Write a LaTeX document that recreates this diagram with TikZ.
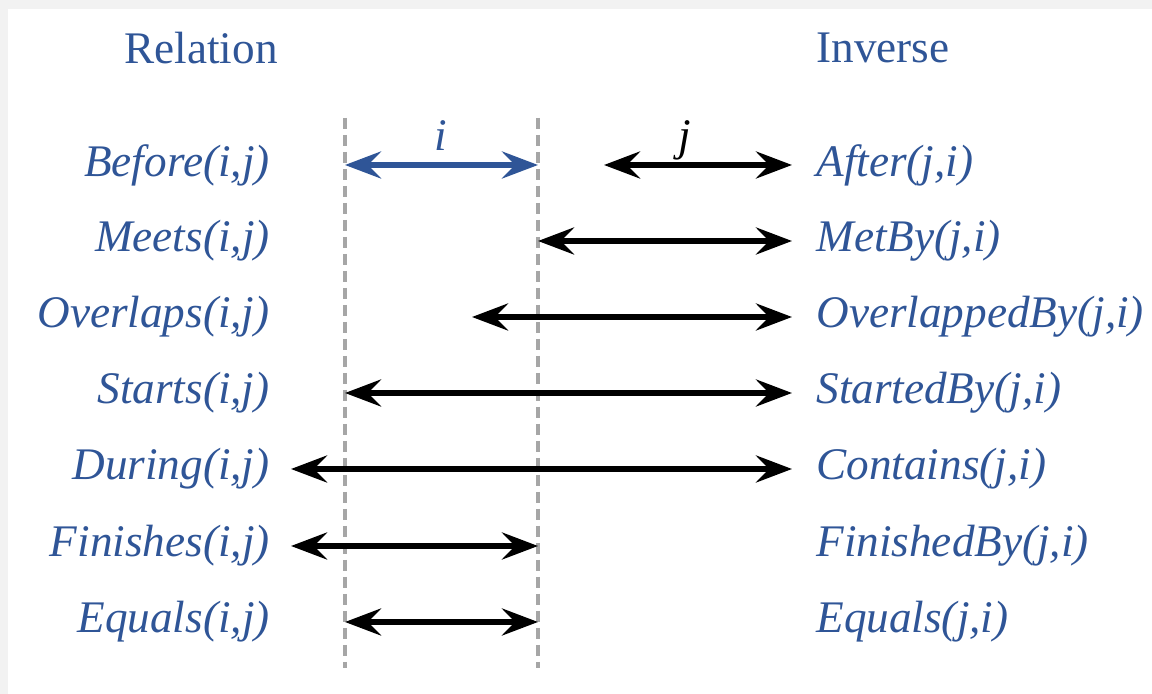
\documentclass[tikz,border=0pt]{standalone}
\usepackage{fontspec}
\setmainfont{Liberation Serif}
\usetikzlibrary{arrows.meta}
\definecolor{lblue}{HTML}{2F5597}
\definecolor{dgray}{HTML}{A6A6A6}
\definecolor{bgray}{HTML}{F2F2F2}
\begin{document}
\begin{tikzpicture}[x=0.5pt,y=-0.5pt,
  lbl/.style={text=lblue,font=\fontsize{22.6}{26}\selectfont\itshape,inner sep=0pt},
  lft/.style={lbl,anchor=east},
  rgt/.style={lbl,anchor=west},
  head/.style={text=lblue,font=\fontsize{22.6}{26}\selectfont,inner sep=0pt},
  iv/.style={draw=black,line width=3.3pt,
    {Stealth[length=18pt,width=13.5pt,inset=6.5pt]}-{Stealth[length=18pt,width=13.5pt,inset=6.5pt]}},
  ivb/.style={iv,draw=lblue},
  guide/.style={draw=dgray,line width=2pt,dash pattern=on 5.5pt off 3pt}]
\fill[bgray] (0,0) rectangle (1152,694);
\fill[white] (8,9) rectangle (1152,694);
\useasboundingbox (0,0) rectangle (1152,694);

% headers
\node[head] (hrel) at (201,48) {Relation};
\node[head,anchor=west] (hinv) at (816,48) {Inverse};

% guides
\coordinate (g1t) at (345,118); \coordinate (g1b) at (345,668);
\coordinate (g2t) at (538,118); \coordinate (g2b) at (538,668);
\draw[guide] (g1t) -- (g1b);
\draw[guide] (g2t) -- (g2b);

% labels
\node[lft] (l1) at (270,165) {Before(i,j)};
\node[lft] (l2) at (270,241) {Meets(i,j)};
\node[lft] (l3) at (270,317) {Overlaps(i,j)};
\node[lft] (l4) at (270,393) {Starts(i,j)};
\node[lft] (l5) at (270,469) {During(i,j)};
\node[lft] (l6) at (270,546) {Finishes(i,j)};
\node[lft] (l7) at (270,622) {Equals(i,j)};

\node[rgt] (r1) at (816,165) {After(j,i)};
\node[rgt] (r2) at (816,241) {MetBy(j,i)};
\node[rgt] (r3) at (816,317) {OverlappedBy(j,i)};
\node[rgt] (r4) at (816,393) {StartedBy(j,i)};
\node[rgt] (r5) at (816,469) {Contains(j,i)};
\node[rgt] (r6) at (816,546) {FinishedBy(j,i)};
\node[rgt] (r7) at (816,622) {Equals(j,i)};

% interval labels
\node[lbl] (ilab) at (441,136) {i};
\node[lbl,text=black] (jlab) at (685,140) {j};

% arrows
\coordinate (a1s) at (345,165); \coordinate (a1e) at (538,165);
\coordinate (b1s) at (604,165); \coordinate (b1e) at (792,165);
\coordinate (a2s) at (538,241); \coordinate (a2e) at (792,241);
\coordinate (a3s) at (472,317); \coordinate (a3e) at (792,317);
\coordinate (a4s) at (345,393); \coordinate (a4e) at (792,393);
\coordinate (a5s) at (291,469); \coordinate (a5e) at (792,469);
\coordinate (a6s) at (291,546); \coordinate (a6e) at (538,546);
\coordinate (a7s) at (345,622); \coordinate (a7e) at (538,622);

\draw[ivb] (a1s) -- (a1e);
\draw[iv] (b1s) -- (b1e);
\draw[iv] (a2s) -- (a2e);
\draw[iv] (a3s) -- (a3e);
\draw[iv] (a4s) -- (a4e);
\draw[iv] (a5s) -- (a5e);
\draw[iv] (a6s) -- (a6e);
\draw[iv] (a7s) -- (a7e);
\end{tikzpicture}
\end{document}
